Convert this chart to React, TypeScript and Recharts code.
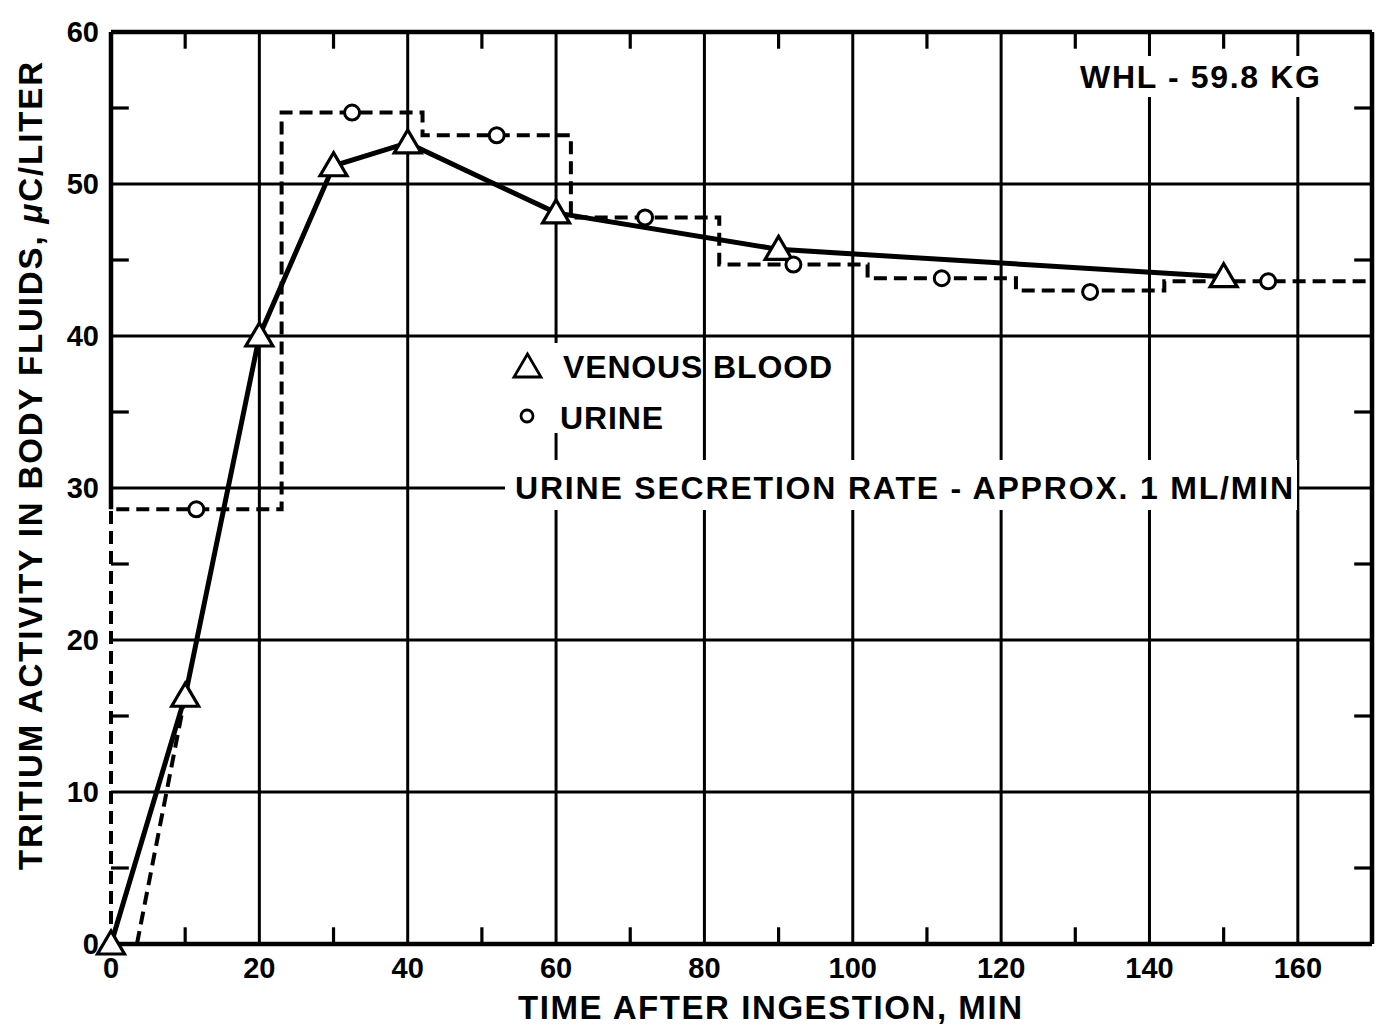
import React from 'react';
import { ComposedChart, Line, Scatter, XAxis, YAxis, ReferenceLine, CartesianGrid } from 'recharts';

// Venous blood (triangles, solid line)
const venousTimes = [0, 10, 20, 30, 40, 60, 90, 150];
const venousValues = [0, 16.3, 40, 51.2, 52.7, 48.1, 45.7, 43.9];

// Urine samples (circles)
const urineSampleTimes = [11.5, 32.5, 52, 72, 92, 112, 132, 156];
const urineSampleValues = [28.6, 54.7, 53.2, 47.8, 44.7, 43.8, 42.9, 43.6];

// Urine collection-period step line (dashed)
const urineStepTimes = [0, 0, 23, 42, 62, 82, 102, 122, 142, 170];
const urineStepLevels = [0, 28.6, 54.7, 53.2, 47.8, 44.7, 43.8, 43.0, 43.6, 43.6];

// Urine early rise (dashed diagonal)
const urineRiseTimes = [3.5, 10];
const urineRiseValues = [0, 16.3];

const xTicks = [0, 20, 40, 60, 80, 100, 120, 140, 160];
const yTicks = [0, 10, 20, 30, 40, 50, 60];
const xGridValues = [20, 40, 60, 80, 100, 120, 140, 160];
const yGridValues = [10, 20, 30, 40, 50];
const xMinorTicks = [10, 30, 50, 70, 90, 110, 130, 150];
const yMinorTicks = [5, 15, 25, 35, 45, 55];
const X_MAX = 170;
const Y_MAX = 60;

const venousData = venousTimes.map((x, i) => ({ x, y: venousValues[i] }));
const urineSampleData = urineSampleTimes.map((x, i) => ({ x, y: urineSampleValues[i] }));
const urineStepData = urineStepTimes.map((x, i) => ({ x, y: urineStepLevels[i] }));
const urineRiseData = urineRiseTimes.map((x, i) => ({ x, y: urineRiseValues[i] }));

const FONT = "'Liberation Sans', Arial, sans-serif";

const renderXTick = (p: any) => (
  <text x={p.x} y={p.y + 34} textAnchor="middle" fontSize={29} fontWeight="bold" fontFamily={FONT} fill="#000">
    {p.payload.value}
  </text>
);

const renderYTick = (p: any) => (
  <text x={p.x - 12} y={p.y + 10} textAnchor="end" fontSize={29} fontWeight="bold" fontFamily={FONT} fill="#000">
    {p.payload.value}
  </text>
);

const renderTriangle = (p: any) => {
  const { cx, cy, index } = p;
  if (cx == null || cy == null) return <g key={`t-${index}`} />;
  return (
    <polygon
      key={`t-${index}`}
      points={`${cx},${cy - 13} ${cx - 13.5},${cy + 10} ${cx + 13.5},${cy + 10}`}
      fill="#fff"
      stroke="#000"
      strokeWidth={3.2}
      strokeLinejoin="miter"
    />
  );
};

const renderCircle = (p: any) => {
  const { cx, cy } = p;
  return <circle cx={cx} cy={cy} r={7.5} fill="#fff" stroke="#000" strokeWidth={3} />;
};

export default function App() {
  const k = '#000';
  return (
    <div style={{ position: 'absolute', left: 0, top: 0, width: 1381, height: 1030, background: '#fff' }}>
      <ComposedChart width={1381} height={1030} margin={{ top: 32, right: 9, bottom: 0, left: 0 }}>
        <CartesianGrid
          stroke={k}
          strokeWidth={3}
          strokeDasharray=""
          verticalValues={xGridValues}
          horizontalValues={yGridValues}
        />
        <XAxis
          type="number"
          dataKey="x"
          domain={[0, X_MAX]}
          ticks={xTicks}
          interval={0}
          axisLine={false}
          tickLine={false}
          tickSize={0}
          tickMargin={0}
          height={86}
          tick={renderXTick}
        />
        <YAxis
          type="number"
          dataKey="y"
          domain={[0, Y_MAX]}
          ticks={yTicks}
          interval={0}
          axisLine={false}
          tickLine={false}
          tickSize={0}
          tickMargin={0}
          width={111}
          tick={renderYTick}
        />

        {/* frame */}
        <ReferenceLine y={Y_MAX} stroke={k} strokeWidth={4.5} />
        <ReferenceLine y={0} stroke={k} strokeWidth={4.5} />
        <ReferenceLine x={X_MAX} stroke={k} strokeWidth={4.5} />
        <ReferenceLine segment={[{ x: 0, y: urineStepLevels[1] }, { x: 0, y: Y_MAX }]} stroke={k} strokeWidth={4.5} />

        {/* minor inward ticks */}
        {xMinorTicks.map((v) => (
          <ReferenceLine key={`mb-${v}`} segment={[{ x: v, y: 0 }, { x: v, y: 1.1 }]} stroke={k} strokeWidth={3.2} />
        ))}
        {xMinorTicks.map((v) => (
          <ReferenceLine key={`mt-${v}`} segment={[{ x: v, y: Y_MAX }, { x: v, y: Y_MAX - 1.1 }]} stroke={k} strokeWidth={3.2} />
        ))}
        {yMinorTicks.map((v) => (
          <ReferenceLine key={`ml-${v}`} segment={[{ x: 0, y: v }, { x: 2.4, y: v }]} stroke={k} strokeWidth={3.2} />
        ))}
        {yMinorTicks.map((v) => (
          <ReferenceLine key={`mr-${v}`} segment={[{ x: X_MAX, y: v }, { x: X_MAX - 2.4, y: v }]} stroke={k} strokeWidth={3.2} />
        ))}

        <Line
          data={urineStepData}
          dataKey="y"
          type="stepAfter"
          stroke={k}
          strokeWidth={4}
          strokeDasharray="13 7"
          dot={false}
          activeDot={false}
          isAnimationActive={false}
          name="Urine collection period"
        />
        <Line
          data={urineRiseData}
          dataKey="y"
          type="linear"
          stroke={k}
          strokeWidth={4}
          strokeDasharray="13 7"
          dot={false}
          activeDot={false}
          isAnimationActive={false}
          name="Urine rise"
        />
        <Line
          data={venousData}
          dataKey="y"
          type="linear"
          stroke={k}
          strokeWidth={5}
          dot={renderTriangle}
          activeDot={false}
          isAnimationActive={false}
          name="Venous blood"
        />
        <Scatter
          data={urineSampleData}
          dataKey="y"
          shape={renderCircle}
          isAnimationActive={false}
          name="Urine"
        />
      </ComposedChart>

      <svg
        width={1381}
        height={1030}
        style={{ position: 'absolute', left: 0, top: 0, pointerEvents: 'none' }}
        fontFamily={FONT}
        fontWeight="bold"
        fill="#000"
      >
        {/* subject label */}
        <rect x={1072} y={56} width={256} height={41} fill="#fff" />
        <text x={1080} y={88} fontSize={32} textLength={240} lengthAdjust="spacing">WHL - 59.8 KG</text>

        {/* legend */}
        <rect x={505} y={343} width={190} height={90} fill="#fff" />
        <polygon points="527.5,354 514,377 541,377" fill="#fff" stroke="#000" strokeWidth={2.8} />
        <text x={563} y={378} fontSize={32} textLength={269} lengthAdjust="spacing">VENOUS BLOOD</text>
        <circle cx={527} cy={416} r={6} fill="#fff" stroke="#000" strokeWidth={2.8} />
        <text x={560} y={429} fontSize={32} textLength={103} lengthAdjust="spacing">URINE</text>

        {/* note */}
        <rect x={505} y={460} width={792} height={50} fill="#fff" />
        <text x={515} y={499} fontSize={32} textLength={778} lengthAdjust="spacing">
          URINE SECRETION RATE - APPROX. 1 ML/MIN
        </text>

        {/* axis titles */}
        <text x={518} y={1019} fontSize={33} textLength={504} lengthAdjust="spacing">
          TIME AFTER INGESTION, MIN
        </text>
        <text
          x={30}
          y={466}
          transform="rotate(-90 30 466)"
          textAnchor="middle"
          dominantBaseline="central"
          fontSize={33}
          textLength={808}
          lengthAdjust="spacing"
        >
          TRITIUM ACTIVITY IN BODY FLUIDS, <tspan fontStyle="italic">μ</tspan>C/LITER
        </text>
      </svg>
    </div>
  );
}
